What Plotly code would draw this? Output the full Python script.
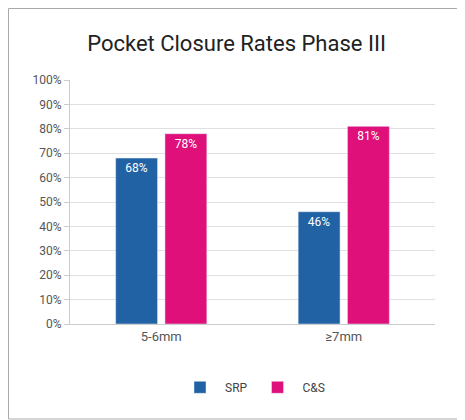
import plotly.graph_objects as go

categories = ["5-6mm", "≥7mm"]
srp = [68, 46]
cs = [78, 81]

fig = go.Figure()
fig.add_bar(name="SRP", x=categories, y=srp, marker_color="#2062a3",
            text=[f"{v}%" for v in srp], textposition="inside", insidetextanchor="end",
            textfont=dict(color="white", size=12))
fig.add_bar(name="C&S", x=categories, y=cs, marker_color="#e0107a",
            text=[f"{v}%" for v in cs], textposition="inside", insidetextanchor="end",
            textfont=dict(color="white", size=12))
fig.update_layout(
    width=457, height=412, barmode="group", bargap=0.46, bargroupgap=0.15,
    paper_bgcolor="white", plot_bgcolor="white",
    font=dict(family="Roboto", color="#555", size=12),
    title=dict(text="Pocket Closure Rates Phase III", x=0.5, y=0.915, xanchor="center",
               yanchor="middle", font=dict(size=22, color="#222")),
    margin=dict(l=62, r=30, t=72, b=96),
    legend=dict(orientation="h", x=0.5, xanchor="center", y=-0.2, yanchor="top",
                font=dict(size=12, color="#444"), traceorder="normal", itemwidth=40),
    xaxis=dict(showline=True, linecolor="#ccc", ticks="", tickfont=dict(size=13)),
    yaxis=dict(range=[0, 100], dtick=10, ticksuffix="%", gridcolor="#e0e0e0",
               showline=True, linecolor="#ccc", ticks="outside", tickcolor="#ccc", ticklen=5,
               zeroline=False),
    shapes=[dict(type="rect", xref="paper", yref="paper", x0=-61.5/365, x1=1+28.5/365,
                 y0=-95/244, y1=1+71.5/244, line=dict(color="#aaa", width=1))],
)
fig.write_html("out.html")
